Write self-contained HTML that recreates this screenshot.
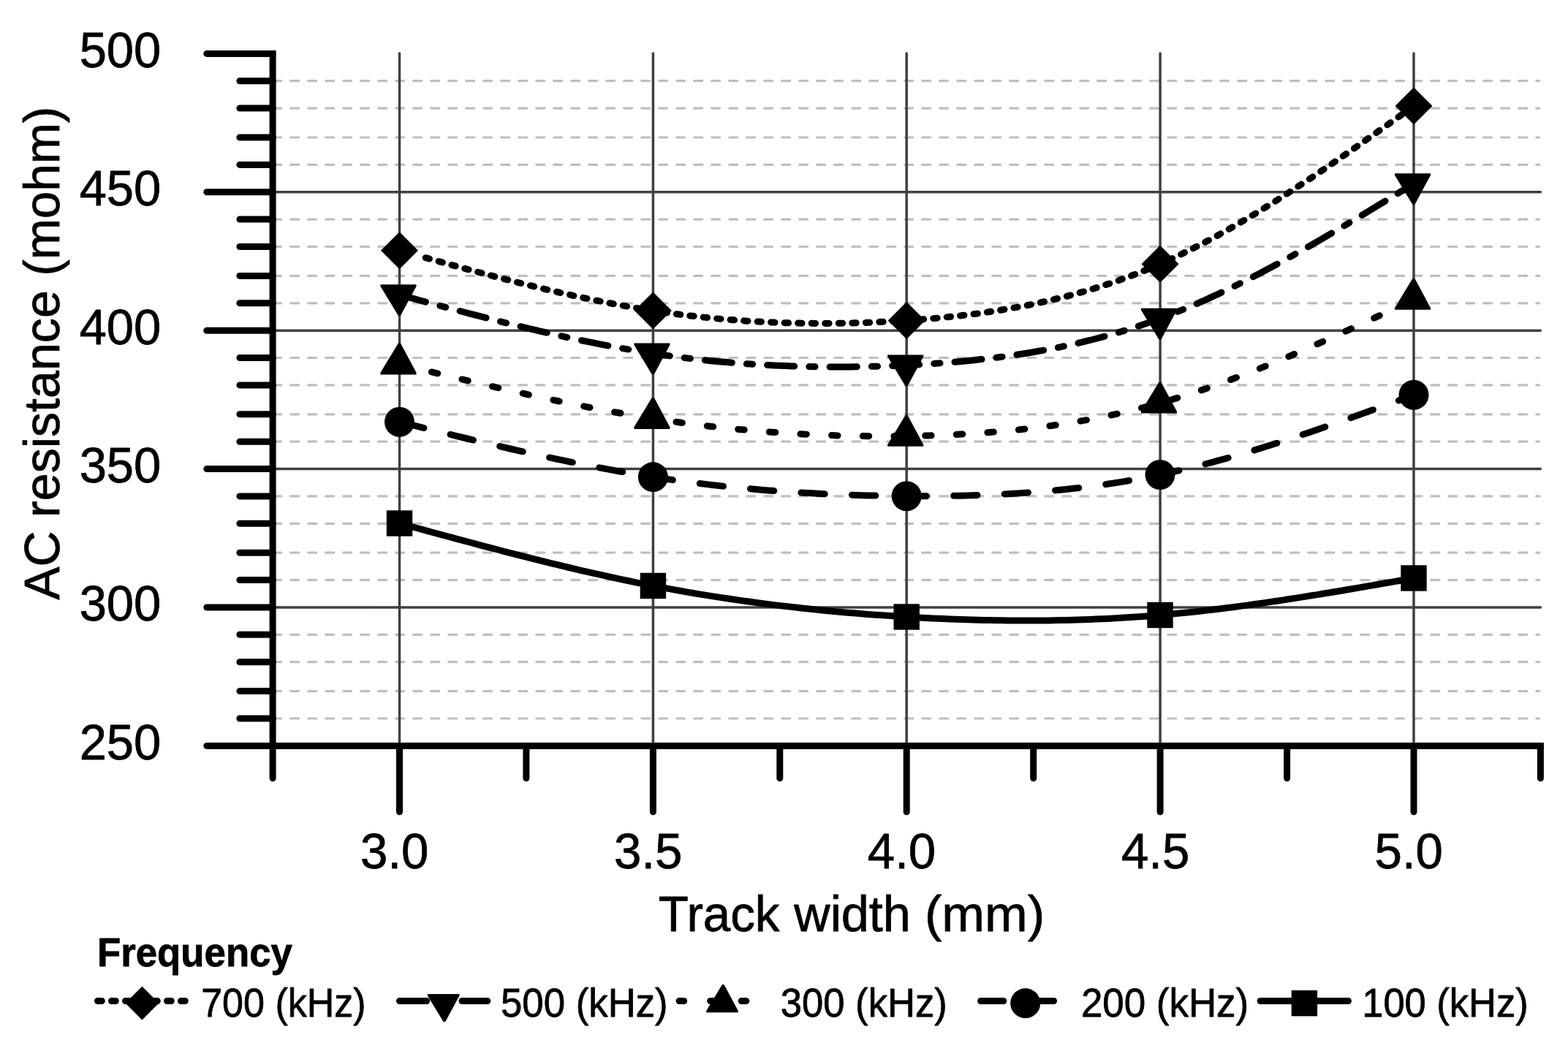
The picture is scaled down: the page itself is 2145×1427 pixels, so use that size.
<!DOCTYPE html>
<html lang="en"><head><meta charset="utf-8"><title>AC resistance vs track width</title>
<style>html,body{margin:0;padding:0;background:#fff;}body{width:2145px;height:1427px;}svg{display:block;}text{font-family:'Liberation Sans', sans-serif;fill:#000;}</style></head><body>
<svg width="2145" height="1427" viewBox="0 0 2145 1427">
<rect width="2145" height="1427" fill="#fff"/>
<g stroke="#bebebe" stroke-width="3.2" stroke-linecap="round" stroke-dasharray="11.0 13.0" fill="none">
<path d="M373.7 983.0 H2105.9"/>
<path d="M373.7 945.6 H2105.9"/>
<path d="M373.7 905.7 H2105.9"/>
<path d="M373.7 868.3 H2105.9"/>
<path d="M373.7 793.6 H2105.9"/>
<path d="M373.7 756.2 H2105.9"/>
<path d="M373.7 716.3 H2105.9"/>
<path d="M373.7 678.9 H2105.9"/>
<path d="M373.7 604.2 H2105.9"/>
<path d="M373.7 566.8 H2105.9"/>
<path d="M373.7 526.9 H2105.9"/>
<path d="M373.7 489.5 H2105.9"/>
<path d="M373.7 414.8 H2105.9"/>
<path d="M373.7 377.4 H2105.9"/>
<path d="M373.7 337.5 H2105.9"/>
<path d="M373.7 300.1 H2105.9"/>
<path d="M373.7 225.4 H2105.9"/>
<path d="M373.7 188.0 H2105.9"/>
<path d="M373.7 148.1 H2105.9"/>
<path d="M373.7 110.7 H2105.9"/>
</g>
<g stroke="#404040" stroke-width="3.5" stroke-linecap="round" fill="none">
<path d="M373.1 831.0 H2107.4"/>
<path d="M373.1 641.6 H2107.4"/>
<path d="M373.1 452.2 H2107.4"/>
<path d="M373.1 262.8 H2107.4"/>
<path d="M546.5 72.9 V1020.4"/>
<path d="M893.4 72.9 V1020.4"/>
<path d="M1240.2 72.9 V1020.4"/>
<path d="M1587.1 72.9 V1020.4"/>
<path d="M1934.0 72.9 V1020.4"/>
</g>
<path d="M582.2 352.7 L586.1 353.7 L594.1 355.9 L602.0 358.1 L603.0 358.4 L610.9 360.6 L618.8 362.8 L626.8 364.9 L634.7 367.1 L642.6 369.2 L650.6 371.4 L658.5 373.5 L666.4 375.6 L674.3 377.7 L682.3 379.8 L690.2 381.8 L698.1 383.8 L706.1 385.9 L715.0 388.1 L722.9 390.1 L730.8 392.0 L738.8 393.9 L746.7 395.8 L754.6 397.7 L762.6 399.5 L770.5 401.4 L778.4 403.1 L786.3 404.9 L794.3 406.6 L802.2 408.3 L810.1 410.0 L818.1 411.6 L827.0 413.4 L834.9 414.9 L842.8 416.4 L850.8 417.9 L858.7 419.3 L866.6 420.7 L874.5 422.1 L882.5 423.4 L890.4 424.6 L898.3 425.9 L906.3 427.0 L914.2 428.1 L922.1 429.2 L930.0 430.3 L939.0 431.4 L946.9 432.3 L954.8 433.2 L962.8 434.1 L970.7 434.9 L978.6 435.7 L986.5 436.4 L994.5 437.1 L1002.4 437.7 L1010.3 438.3 L1018.2 438.9 L1026.2 439.4 L1034.1 439.9 L1042.0 440.3 L1051.0 440.7 L1058.9 441.1 L1066.8 441.4 L1074.7 441.7 L1082.7 441.9 L1090.6 442.1 L1098.5 442.2 L1106.5 442.3 L1114.4 442.4 L1122.3 442.4 L1130.2 442.4 L1138.2 442.4 L1146.1 442.3 L1154.0 442.2 L1162.9 442.0 L1170.9 441.8 L1178.8 441.6 L1186.7 441.3 L1194.7 441.0 L1202.6 440.6 L1210.5 440.2 L1218.4 439.8 L1226.4 439.4 L1234.3 438.9 L1242.2 438.4 L1250.2 437.8 L1258.1 437.2 L1266.0 436.6 L1274.9 435.8 L1282.9 435.1 L1290.8 434.3 L1298.7 433.5 L1306.7 432.7 L1314.6 431.8 L1322.5 430.8 L1330.4 429.8 L1338.4 428.8 L1346.3 427.7 L1354.2 426.5 L1362.2 425.3 L1370.1 424.0 L1378.0 422.7 L1379.0 422.5 L1386.9 421.1 L1394.9 419.7 L1402.8 418.2 L1410.7 416.6 L1418.6 414.9 L1426.6 413.2 L1434.5 411.4 L1442.4 409.5 L1450.4 407.6 L1458.3 405.6 L1466.2 403.5 L1474.1 401.3 L1482.1 399.1 L1490.0 396.7 L1491.0 396.4 L1498.9 394.0 L1506.8 391.5 L1514.8 388.9 L1522.7 386.3 L1530.6 383.5 L1538.6 380.6 L1546.5 377.7 L1554.4 374.7 L1562.3 371.5 L1570.3 368.3 L1578.2 365.0 L1586.1 361.6 L1594.1 358.1 L1603.0 354.0 L1610.9 350.3 L1618.8 346.4 L1626.8 342.5 L1634.7 338.5 L1642.6 334.5 L1650.6 330.3 L1658.5 326.1 L1666.4 321.7 L1674.3 317.3 L1682.3 312.8 L1690.2 308.3 L1698.1 303.7 L1706.1 299.0 L1715.0 293.6 L1722.9 288.8 L1730.8 283.9 L1738.8 279.0 L1746.7 274.0 L1754.6 268.9 L1762.5 263.8 L1770.5 258.6 L1778.4 253.4 L1786.3 248.2 L1794.3 242.9 L1802.2 237.6 L1810.1 232.2 L1818.0 226.8 L1827.0 220.7 L1834.9 215.2 L1842.8 209.7 L1850.8 204.2 L1858.7 198.6 L1866.6 193.0 L1874.5 187.4 L1882.5 181.8 L1890.4 176.2 L1898.3 170.6 L1906.2 164.9 L1914.2 159.3 L1922.1 153.6 L1930.0 147.9 L1934.0 145.1" fill="none" stroke="#000" stroke-width="9.0" stroke-linecap="round" stroke-linejoin="round" stroke-dasharray="5.4 13.13"/>
<path d="M546.5 403.4 L554.4 405.5 L562.4 407.7 L570.3 409.8 L578.2 412.0 L586.1 414.1 L594.1 416.2 L602.0 418.4 L603.0 418.6 L610.9 420.7 L618.8 422.8 L626.8 424.9 L634.7 427.0 L642.6 429.1 L650.6 431.2 L658.5 433.2 L666.4 435.3 L674.3 437.3 L682.3 439.3 L690.2 441.3 L698.1 443.3 L706.1 445.2 L715.0 447.4 L722.9 449.3 L730.8 451.2 L738.8 453.1 L746.7 454.9 L754.6 456.8 L762.6 458.6 L770.5 460.3 L778.4 462.1 L786.3 463.8 L794.3 465.5 L802.2 467.1 L810.1 468.7 L818.1 470.3 L827.0 472.1 L834.9 473.6 L842.8 475.1 L850.8 476.5 L858.7 477.9 L866.6 479.3 L874.5 480.6 L882.5 481.9 L890.4 483.1 L898.3 484.3 L906.3 485.5 L914.2 486.6 L922.1 487.7 L930.0 488.7 L939.0 489.9 L946.9 490.8 L954.8 491.7 L962.8 492.6 L970.7 493.4 L978.6 494.2 L986.5 494.9 L994.5 495.6 L1002.4 496.3 L1010.3 496.9 L1018.2 497.5 L1026.2 498.1 L1034.1 498.6 L1042.0 499.1 L1051.0 499.6 L1058.9 500.0 L1066.8 500.3 L1074.7 500.6 L1082.7 500.9 L1090.6 501.2 L1098.5 501.4 L1106.5 501.6 L1114.4 501.7 L1122.3 501.8 L1130.2 501.9 L1138.2 502.0 L1146.1 502.0 L1154.0 501.9 L1162.9 501.9 L1170.9 501.8 L1178.8 501.7 L1186.7 501.5 L1194.7 501.3 L1202.6 501.1 L1210.5 500.8 L1218.4 500.5 L1226.4 500.2 L1234.3 499.9 L1242.2 499.5 L1250.2 499.1 L1258.1 498.7 L1266.0 498.2 L1274.9 497.6 L1282.9 497.1 L1290.8 496.5 L1298.7 495.8 L1306.7 495.2 L1314.6 494.5 L1322.5 493.7 L1330.4 492.9 L1338.4 492.1 L1346.3 491.2 L1354.2 490.3 L1362.2 489.3 L1370.1 488.3 L1378.0 487.2 L1379.0 487.1 L1386.9 485.9 L1394.9 484.7 L1402.8 483.5 L1410.7 482.2 L1418.6 480.8 L1426.6 479.4 L1434.5 477.9 L1442.4 476.4 L1450.4 474.8 L1458.3 473.1 L1466.2 471.4 L1474.1 469.6 L1482.1 467.7 L1490.0 465.7 L1491.0 465.5 L1498.9 463.5 L1506.8 461.4 L1514.8 459.2 L1522.7 456.9 L1530.6 454.6 L1538.6 452.2 L1546.5 449.7 L1554.4 447.2 L1562.3 444.5 L1570.3 441.8 L1578.2 439.0 L1586.1 436.1 L1594.1 433.1 L1603.0 429.7 L1610.9 426.5 L1618.8 423.3 L1626.8 420.0 L1634.7 416.6 L1642.6 413.1 L1650.6 409.6 L1658.5 405.9 L1666.4 402.3 L1674.3 398.5 L1682.3 394.7 L1690.2 390.8 L1698.1 386.9 L1706.1 382.9 L1715.0 378.3 L1722.9 374.2 L1730.8 370.0 L1738.8 365.8 L1746.7 361.5 L1754.6 357.2 L1762.5 352.8 L1770.5 348.4 L1778.4 344.0 L1786.3 339.5 L1794.3 335.0 L1802.2 330.4 L1810.1 325.8 L1818.0 321.2 L1827.0 316.0 L1834.9 311.3 L1842.8 306.6 L1850.8 301.8 L1858.7 297.1 L1866.6 292.3 L1874.5 287.5 L1882.5 282.7 L1890.4 277.9 L1898.3 273.1 L1906.2 268.3 L1914.2 263.4 L1922.1 258.6 L1930.0 253.7 L1934.0 251.3" fill="none" stroke="#000" stroke-width="9.0" stroke-linecap="round" stroke-linejoin="round" stroke-dasharray="37.2 20.05 8.25 20.05"/>
<path d="M546.5 498.2 L554.4 500.1 L562.4 502.1 L570.3 504.0 L578.2 505.9 L586.1 507.9 L594.1 509.8 L602.0 511.7 L603.0 512.0 L610.9 513.9 L618.8 515.8 L626.8 517.7 L634.7 519.6 L642.6 521.5 L650.6 523.4 L658.5 525.2 L666.4 527.1 L674.3 528.9 L682.3 530.8 L690.2 532.6 L698.1 534.4 L706.1 536.2 L715.0 538.2 L722.9 540.0 L730.8 541.7 L738.8 543.5 L746.7 545.2 L754.6 546.9 L762.6 548.5 L770.5 550.2 L778.4 551.8 L786.3 553.4 L794.3 555.0 L802.2 556.6 L810.1 558.1 L818.1 559.7 L827.0 561.3 L834.9 562.8 L842.8 564.2 L850.8 565.6 L858.7 567.0 L866.6 568.4 L874.5 569.7 L882.5 571.0 L890.4 572.2 L898.3 573.5 L906.3 574.7 L914.2 575.8 L922.1 576.9 L930.0 578.0 L939.0 579.2 L946.9 580.3 L954.8 581.3 L962.8 582.2 L970.7 583.2 L978.6 584.1 L986.5 584.9 L994.5 585.8 L1002.4 586.6 L1010.3 587.4 L1018.2 588.1 L1026.2 588.8 L1034.1 589.5 L1042.0 590.2 L1051.0 590.9 L1058.9 591.4 L1066.8 592.0 L1074.7 592.5 L1082.7 593.0 L1090.6 593.5 L1098.5 593.9 L1106.5 594.3 L1114.4 594.7 L1122.3 595.0 L1130.2 595.3 L1138.2 595.6 L1146.1 595.9 L1154.0 596.1 L1162.9 596.3 L1170.9 596.5 L1178.8 596.6 L1186.7 596.7 L1194.7 596.8 L1202.6 596.8 L1210.5 596.8 L1218.4 596.8 L1226.4 596.8 L1234.3 596.7 L1242.2 596.6 L1250.2 596.4 L1258.1 596.3 L1266.0 596.1 L1274.9 595.8 L1282.9 595.6 L1290.8 595.3 L1298.7 594.9 L1306.7 594.6 L1314.6 594.1 L1322.5 593.7 L1330.4 593.2 L1338.4 592.7 L1346.3 592.1 L1354.2 591.5 L1362.2 590.9 L1370.1 590.2 L1378.0 589.5 L1379.0 589.4 L1386.9 588.6 L1394.9 587.8 L1402.8 586.9 L1410.7 586.0 L1418.6 585.0 L1426.6 584.0 L1434.5 582.9 L1442.4 581.8 L1450.4 580.6 L1458.3 579.4 L1466.2 578.1 L1474.1 576.8 L1482.1 575.4 L1490.0 574.0 L1491.0 573.8 L1498.9 572.3 L1506.8 570.7 L1514.8 569.1 L1522.7 567.4 L1530.6 565.7 L1538.6 563.8 L1546.5 562.0 L1554.4 560.0 L1562.3 558.0 L1570.3 556.0 L1578.2 553.8 L1586.1 551.6 L1594.1 549.4 L1603.0 546.7 L1610.9 544.3 L1618.8 541.9 L1626.8 539.3 L1634.7 536.7 L1642.6 534.1 L1650.6 531.4 L1658.5 528.6 L1666.4 525.8 L1674.3 522.9 L1682.3 520.0 L1690.2 517.0 L1698.1 514.0 L1706.1 510.9 L1715.0 507.4 L1722.9 504.3 L1730.8 501.1 L1738.8 497.8 L1746.7 494.5 L1754.6 491.2 L1762.5 487.9 L1770.5 484.5 L1778.4 481.1 L1786.3 477.6 L1794.3 474.1 L1802.2 470.6 L1810.1 467.1 L1818.0 463.5 L1827.0 459.5 L1834.9 455.9 L1842.8 452.3 L1850.8 448.6 L1858.7 445.0 L1866.6 441.3 L1874.5 437.6 L1882.5 433.9 L1890.4 430.2 L1898.3 426.5 L1906.2 422.8 L1914.2 419.0 L1922.1 415.3 L1930.0 411.6 L1934.0 409.7" fill="none" stroke="#000" stroke-width="9.0" stroke-linecap="round" stroke-linejoin="round" stroke-dasharray="8.5 34.2" stroke-dashoffset="-2.5"/>
<path d="M546.5 577.3 L554.4 579.3 L562.4 581.2 L570.3 583.2 L578.2 585.1 L586.1 587.1 L594.1 589.1 L602.0 591.0 L603.0 591.3 L610.9 593.2 L618.8 595.1 L626.8 597.1 L634.7 599.0 L642.6 600.9 L650.6 602.8 L658.5 604.7 L666.4 606.6 L674.3 608.4 L682.3 610.3 L690.2 612.1 L698.1 614.0 L706.1 615.8 L715.0 617.8 L722.9 619.6 L730.8 621.4 L738.8 623.1 L746.7 624.9 L754.6 626.6 L762.6 628.3 L770.5 629.9 L778.4 631.6 L786.3 633.2 L794.3 634.8 L802.2 636.4 L810.1 637.9 L818.1 639.5 L827.0 641.2 L834.9 642.6 L842.8 644.1 L850.8 645.5 L858.7 646.9 L866.6 648.2 L874.5 649.6 L882.5 650.9 L890.4 652.1 L898.3 653.4 L906.3 654.6 L914.2 655.7 L922.1 656.9 L930.0 658.0 L939.0 659.1 L946.9 660.2 L954.8 661.2 L962.8 662.1 L970.7 663.1 L978.6 664.0 L986.5 664.9 L994.5 665.7 L1002.4 666.5 L1010.3 667.3 L1018.2 668.1 L1026.2 668.8 L1034.1 669.5 L1042.0 670.2 L1051.0 670.9 L1058.9 671.5 L1066.8 672.1 L1074.7 672.7 L1082.7 673.2 L1090.6 673.7 L1098.5 674.2 L1106.5 674.6 L1114.4 675.1 L1122.3 675.5 L1130.2 675.9 L1138.2 676.2 L1146.1 676.5 L1154.0 676.8 L1162.9 677.2 L1170.9 677.4 L1178.8 677.7 L1186.7 677.9 L1194.7 678.0 L1202.6 678.2 L1210.5 678.4 L1218.4 678.5 L1226.4 678.6 L1234.3 678.7 L1242.2 678.7 L1250.2 678.7 L1258.1 678.8 L1266.0 678.8 L1274.9 678.7 L1282.9 678.7 L1290.8 678.6 L1298.7 678.5 L1306.7 678.3 L1314.6 678.2 L1322.5 678.0 L1330.4 677.8 L1338.4 677.5 L1346.3 677.2 L1354.2 676.9 L1362.2 676.6 L1370.1 676.2 L1378.0 675.8 L1379.0 675.7 L1386.9 675.2 L1394.9 674.8 L1402.8 674.2 L1410.7 673.7 L1418.6 673.1 L1426.6 672.4 L1434.5 671.7 L1442.4 671.0 L1450.4 670.2 L1458.3 669.4 L1466.2 668.6 L1474.1 667.7 L1482.1 666.7 L1490.0 665.7 L1491.0 665.6 L1498.9 664.5 L1506.8 663.5 L1514.8 662.3 L1522.7 661.1 L1530.6 659.9 L1538.6 658.6 L1546.5 657.2 L1554.4 655.8 L1562.3 654.4 L1570.3 652.9 L1578.2 651.3 L1586.1 649.7 L1594.1 648.0 L1603.0 646.0 L1610.9 644.2 L1618.8 642.4 L1626.8 640.5 L1634.7 638.5 L1642.6 636.5 L1650.6 634.5 L1658.5 632.4 L1666.4 630.2 L1674.3 628.1 L1682.3 625.8 L1690.2 623.6 L1698.1 621.2 L1706.1 618.9 L1715.0 616.2 L1722.9 613.8 L1730.8 611.3 L1738.8 608.8 L1746.7 606.3 L1754.6 603.7 L1762.5 601.1 L1770.5 598.5 L1778.4 595.8 L1786.3 593.2 L1794.3 590.5 L1802.2 587.7 L1810.1 585.0 L1818.0 582.2 L1827.0 579.1 L1834.9 576.3 L1842.8 573.5 L1850.8 570.6 L1858.7 567.8 L1866.6 564.9 L1874.5 562.1 L1882.5 559.2 L1890.4 556.3 L1898.3 553.4 L1906.2 550.5 L1914.2 547.6 L1922.1 544.7 L1930.0 541.8 L1934.0 540.3" fill="none" stroke="#000" stroke-width="9.0" stroke-linecap="round" stroke-linejoin="round" stroke-dasharray="32.4 37.2" stroke-dashoffset="-2.0"/>
<path d="M546.5 716.0 L554.4 718.2 L562.4 720.3 L570.3 722.5 L578.2 724.6 L586.1 726.8 L594.1 729.0 L602.0 731.1 L603.0 731.4 L610.9 733.5 L618.8 735.7 L626.8 737.8 L634.7 739.9 L642.6 742.0 L650.6 744.1 L658.5 746.3 L666.4 748.3 L674.3 750.4 L682.3 752.5 L690.2 754.6 L698.1 756.6 L706.1 758.6 L715.0 760.9 L722.9 762.9 L730.8 764.9 L738.8 766.9 L746.7 768.9 L754.6 770.8 L762.6 772.7 L770.5 774.7 L778.4 776.5 L786.3 778.4 L794.3 780.3 L802.2 782.1 L810.1 783.9 L818.1 785.7 L827.0 787.7 L834.9 789.4 L842.8 791.2 L850.8 792.8 L858.7 794.5 L866.6 796.2 L874.5 797.8 L882.5 799.4 L890.4 800.9 L898.3 802.4 L906.3 804.0 L914.2 805.4 L922.1 806.9 L930.0 808.3 L939.0 809.9 L946.9 811.2 L954.8 812.6 L962.8 813.9 L970.7 815.1 L978.6 816.4 L986.5 817.6 L994.5 818.8 L1002.4 820.0 L1010.3 821.1 L1018.2 822.3 L1026.2 823.3 L1034.1 824.4 L1042.0 825.5 L1051.0 826.6 L1058.9 827.6 L1066.8 828.6 L1074.7 829.5 L1082.7 830.4 L1090.6 831.3 L1098.5 832.2 L1106.5 833.0 L1114.4 833.9 L1122.3 834.7 L1130.2 835.5 L1138.2 836.2 L1146.1 836.9 L1154.0 837.7 L1162.9 838.4 L1170.9 839.1 L1178.8 839.7 L1186.7 840.4 L1194.7 841.0 L1202.6 841.5 L1210.5 842.1 L1218.4 842.6 L1226.4 843.1 L1234.3 843.6 L1242.2 844.1 L1250.2 844.6 L1258.1 845.0 L1266.0 845.4 L1274.9 845.9 L1282.9 846.2 L1290.8 846.6 L1298.7 846.9 L1306.7 847.2 L1314.6 847.5 L1322.5 847.8 L1330.4 848.0 L1338.4 848.2 L1346.3 848.4 L1354.2 848.6 L1362.2 848.7 L1370.1 848.8 L1378.0 848.9 L1379.0 848.9 L1386.9 849.0 L1394.9 849.0 L1402.8 849.1 L1410.7 849.0 L1418.6 849.0 L1426.6 848.9 L1434.5 848.9 L1442.4 848.7 L1450.4 848.6 L1458.3 848.4 L1466.2 848.2 L1474.1 848.0 L1482.1 847.7 L1490.0 847.4 L1491.0 847.4 L1498.9 847.1 L1506.8 846.7 L1514.8 846.4 L1522.7 846.0 L1530.6 845.5 L1538.6 845.0 L1546.5 844.5 L1554.4 844.0 L1562.3 843.5 L1570.3 842.9 L1578.2 842.2 L1586.1 841.6 L1594.1 840.9 L1603.0 840.1 L1610.9 839.3 L1618.8 838.5 L1626.8 837.7 L1634.7 836.9 L1642.6 836.0 L1650.6 835.1 L1658.5 834.2 L1666.4 833.2 L1674.3 832.2 L1682.3 831.2 L1690.2 830.2 L1698.1 829.1 L1706.1 828.1 L1715.0 826.8 L1722.9 825.7 L1730.8 824.6 L1738.8 823.4 L1746.7 822.2 L1754.6 821.1 L1762.5 819.8 L1770.5 818.6 L1778.4 817.4 L1786.3 816.1 L1794.3 814.8 L1802.2 813.6 L1810.1 812.3 L1818.0 811.0 L1827.0 809.5 L1834.9 808.2 L1842.8 806.8 L1850.8 805.5 L1858.7 804.1 L1866.6 802.8 L1874.5 801.4 L1882.5 800.0 L1890.4 798.6 L1898.3 797.3 L1906.2 795.9 L1914.2 794.5 L1922.1 793.1 L1930.0 791.7 L1934.0 791.0" fill="none" stroke="#000" stroke-width="9.0" stroke-linecap="round" stroke-linejoin="round"/>
<g fill="#000">
<path d="M546.5 317.2 L572.0 342.7 L546.5 368.2 L521.0 342.7Z"/>
<path d="M893.4 399.6 L918.9 425.1 L893.4 450.6 L867.9 425.1Z"/>
<path d="M1240.2 413.0 L1265.7 438.5 L1240.2 464.0 L1214.7 438.5Z"/>
<path d="M1587.0 335.7 L1612.5 361.2 L1587.0 386.7 L1561.5 361.2Z"/>
<path d="M1934.0 119.6 L1959.5 145.1 L1934.0 170.6 L1908.5 145.1Z"/>
<path d="M544.9 432.1 L547.9 432.1 L569.5 391.8 L569.5 389.2 L520.5 389.2 L520.5 391.8Z"/>
<path d="M891.8 512.3 L894.8 512.3 L916.4 472.0 L916.4 469.5 L867.4 469.5 L867.4 472.0Z"/>
<path d="M1238.6 528.3 L1241.6 528.3 L1263.2 488.0 L1263.2 485.5 L1214.2 485.5 L1214.2 488.0Z"/>
<path d="M1585.4 464.5 L1588.4 464.5 L1610.0 424.2 L1610.0 421.7 L1561.0 421.7 L1561.0 424.2Z"/>
<path d="M1932.4 280.0 L1935.4 280.0 L1957.0 239.7 L1957.0 237.2 L1908.0 237.2 L1908.0 239.7Z"/>
<path d="M544.9 469.5 L547.9 469.5 L569.5 509.8 L569.5 512.4 L520.5 512.4 L520.5 509.8Z"/>
<path d="M891.8 544.0 L894.8 544.0 L916.4 584.3 L916.4 586.9 L867.4 586.9 L867.4 584.3Z"/>
<path d="M1238.6 567.9 L1241.6 567.9 L1263.2 608.2 L1263.2 610.8 L1214.2 610.8 L1214.2 608.2Z"/>
<path d="M1585.4 522.7 L1588.4 522.7 L1610.0 563.0 L1610.0 565.5 L1561.0 565.5 L1561.0 563.0Z"/>
<path d="M1932.4 381.0 L1935.4 381.0 L1957.0 421.3 L1957.0 423.8 L1908.0 423.8 L1908.0 421.3Z"/>
<circle cx="546.5" cy="577.3" r="20.5"/>
<circle cx="893.4" cy="652.6" r="20.5"/>
<circle cx="1240.2" cy="678.7" r="20.5"/>
<circle cx="1587.0" cy="649.5" r="20.5"/>
<circle cx="1934.0" cy="540.3" r="20.5"/>
<rect x="528.8" y="698.3" width="35.4" height="35.4"/>
<rect x="875.7" y="783.8" width="35.4" height="35.4"/>
<rect x="1222.5" y="826.3" width="35.4" height="35.4"/>
<rect x="1569.3" y="823.8" width="35.4" height="35.4"/>
<rect x="1916.3" y="773.3" width="35.4" height="35.4"/>
</g>
<g stroke="#000" stroke-width="9.0" fill="none" stroke-linecap="round">
<path d="M282.8 1020.4 H373.1"/>
<path d="M327.9 983.0 H373.1"/>
<path d="M327.9 945.6 H373.1"/>
<path d="M327.9 905.7 H373.1"/>
<path d="M327.9 868.3 H373.1"/>
<path d="M282.8 831.0 H373.1"/>
<path d="M327.9 793.6 H373.1"/>
<path d="M327.9 756.2 H373.1"/>
<path d="M327.9 716.3 H373.1"/>
<path d="M327.9 678.9 H373.1"/>
<path d="M282.8 641.6 H373.1"/>
<path d="M327.9 604.2 H373.1"/>
<path d="M327.9 566.8 H373.1"/>
<path d="M327.9 526.9 H373.1"/>
<path d="M327.9 489.5 H373.1"/>
<path d="M282.8 452.2 H373.1"/>
<path d="M327.9 414.8 H373.1"/>
<path d="M327.9 377.4 H373.1"/>
<path d="M327.9 337.5 H373.1"/>
<path d="M327.9 300.1 H373.1"/>
<path d="M282.8 262.8 H373.1"/>
<path d="M327.9 225.4 H373.1"/>
<path d="M327.9 188.0 H373.1"/>
<path d="M327.9 148.1 H373.1"/>
<path d="M327.9 110.7 H373.1"/>
<path d="M282.8 73.4 H373.1"/>
<path d="M373.1 1020.4 V1064.7"/>
<path d="M546.5 1020.4 V1110.7"/>
<path d="M719.9 1020.4 V1064.7"/>
<path d="M893.4 1020.4 V1110.7"/>
<path d="M1066.8 1020.4 V1064.7"/>
<path d="M1240.2 1020.4 V1110.7"/>
<path d="M1413.7 1020.4 V1064.7"/>
<path d="M1587.1 1020.4 V1110.7"/>
<path d="M1760.6 1020.4 V1064.7"/>
<path d="M1934.0 1020.4 V1110.7"/>
<path d="M2107.4 1020.4 V1064.7"/>
</g>
<g stroke="#000" stroke-width="9.0" fill="none" stroke-linecap="square">
<path d="M373.1 73.4 V1020.4"/>
<path d="M373.1 1020.4 H2107.4"/>
</g>
<g font-size="67.9" stroke="#000" stroke-width="0.8" stroke-linejoin="round">
<text x="108.7" textLength="111.5" lengthAdjust="spacingAndGlyphs" y="1038.8">250</text>
<text x="108.7" textLength="111.5" lengthAdjust="spacingAndGlyphs" y="849.4">300</text>
<text x="108.7" textLength="111.5" lengthAdjust="spacingAndGlyphs" y="660.0">350</text>
<text x="108.7" textLength="111.5" lengthAdjust="spacingAndGlyphs" y="470.6">400</text>
<text x="108.7" textLength="111.5" lengthAdjust="spacingAndGlyphs" y="281.2">450</text>
<text x="108.7" textLength="111.5" lengthAdjust="spacingAndGlyphs" y="91.8">500</text>
<text x="493.1" textLength="93.4" lengthAdjust="spacingAndGlyphs" y="1187.7">3.0</text>
<text x="840.1" textLength="93.4" lengthAdjust="spacingAndGlyphs" y="1187.7">3.5</text>
<text x="1186.8" textLength="93.4" lengthAdjust="spacingAndGlyphs" y="1187.7">4.0</text>
<text x="1533.9" textLength="93.4" lengthAdjust="spacingAndGlyphs" y="1187.7">4.5</text>
<text x="1880.6" textLength="93.4" lengthAdjust="spacingAndGlyphs" y="1187.7">5.0</text>
<text y="1274.1" font-size="68.5"><tspan x="900.8" textLength="165.7" lengthAdjust="spacingAndGlyphs">Track</tspan> <tspan x="1086.3" textLength="159.6" lengthAdjust="spacingAndGlyphs">width</tspan> <tspan x="1264.9" textLength="164.2" lengthAdjust="spacingAndGlyphs">(mm)</tspan></text>
<text transform="translate(80.5 821.1) rotate(-90)" font-size="68.5"><tspan x="0.3" textLength="94.3" lengthAdjust="spacingAndGlyphs">AC</tspan> <tspan x="113.2" textLength="310.8" lengthAdjust="spacingAndGlyphs">resistance</tspan> <tspan x="443.5" textLength="231.7" lengthAdjust="spacingAndGlyphs">(mohm)</tspan></text>
</g>
<text x="132.9" textLength="267.1" lengthAdjust="spacingAndGlyphs" y="1321.6" font-size="55.5" font-weight="bold" stroke="#000" stroke-width="0.8" stroke-linejoin="round">Frequency</text>
<g font-size="54.9" stroke="#000" stroke-width="0.8" stroke-linejoin="round">
<text x="275.2" textLength="225.4" lengthAdjust="spacingAndGlyphs" y="1390.6">700 (kHz)</text>
<text x="685.0" textLength="228.7" lengthAdjust="spacingAndGlyphs" y="1390.6">500 (kHz)</text>
<text x="1067.8" textLength="227.9" lengthAdjust="spacingAndGlyphs" y="1390.6">300 (kHz)</text>
<text x="1478.9" textLength="229.3" lengthAdjust="spacingAndGlyphs" y="1390.6">200 (kHz)</text>
<text x="1863.2" textLength="227.5" lengthAdjust="spacingAndGlyphs" y="1390.6">100 (kHz)</text>
</g>
<path d="M133.5 1369.5 H253.8" fill="none" stroke="#000" stroke-width="9.0" stroke-linecap="round" stroke-dasharray="5.8 13.2"/>
<g fill="#000"><path d="M194.4 1349.6 L217.3 1372.6 L194.4 1395.5 L171.5 1372.6Z"/></g>
<path d="M546.5 1369.5 H666.8" fill="none" stroke="#000" stroke-width="9.0" stroke-linecap="round" stroke-dasharray="37.2 20.05 8.25 20.05"/>
<g fill="#000"><path d="M606.6 1398.1 L609.2 1398.1 L628.5 1362.3 L628.5 1360.0 L584.9 1360.0 L584.9 1362.3Z"/></g>
<path d="M929.1 1369.5 H1049.4" fill="none" stroke="#000" stroke-width="9.0" stroke-linecap="round" stroke-dasharray="6.6 35.95"/>
<g fill="#000"><path d="M987.9 1347.1 L990.5 1347.1 L1009.8 1382.9 L1009.8 1385.2 L966.2 1385.2 L966.2 1382.9Z"/></g>
<path d="M1341.6 1369.5 H1461.9" fill="none" stroke="#000" stroke-width="9.0" stroke-linecap="round" stroke-dasharray="31.25 37.5"/>
<g fill="#000"><circle cx="1402.7" cy="1372.6" r="20.5"/></g>
<path d="M1724.1 1369.5 H1844.4" fill="none" stroke="#000" stroke-width="9.0" stroke-linecap="round"/>
<g fill="#000"><rect x="1766.7" y="1354.9" width="35.4" height="35.4"/></g>
</svg></body></html>
